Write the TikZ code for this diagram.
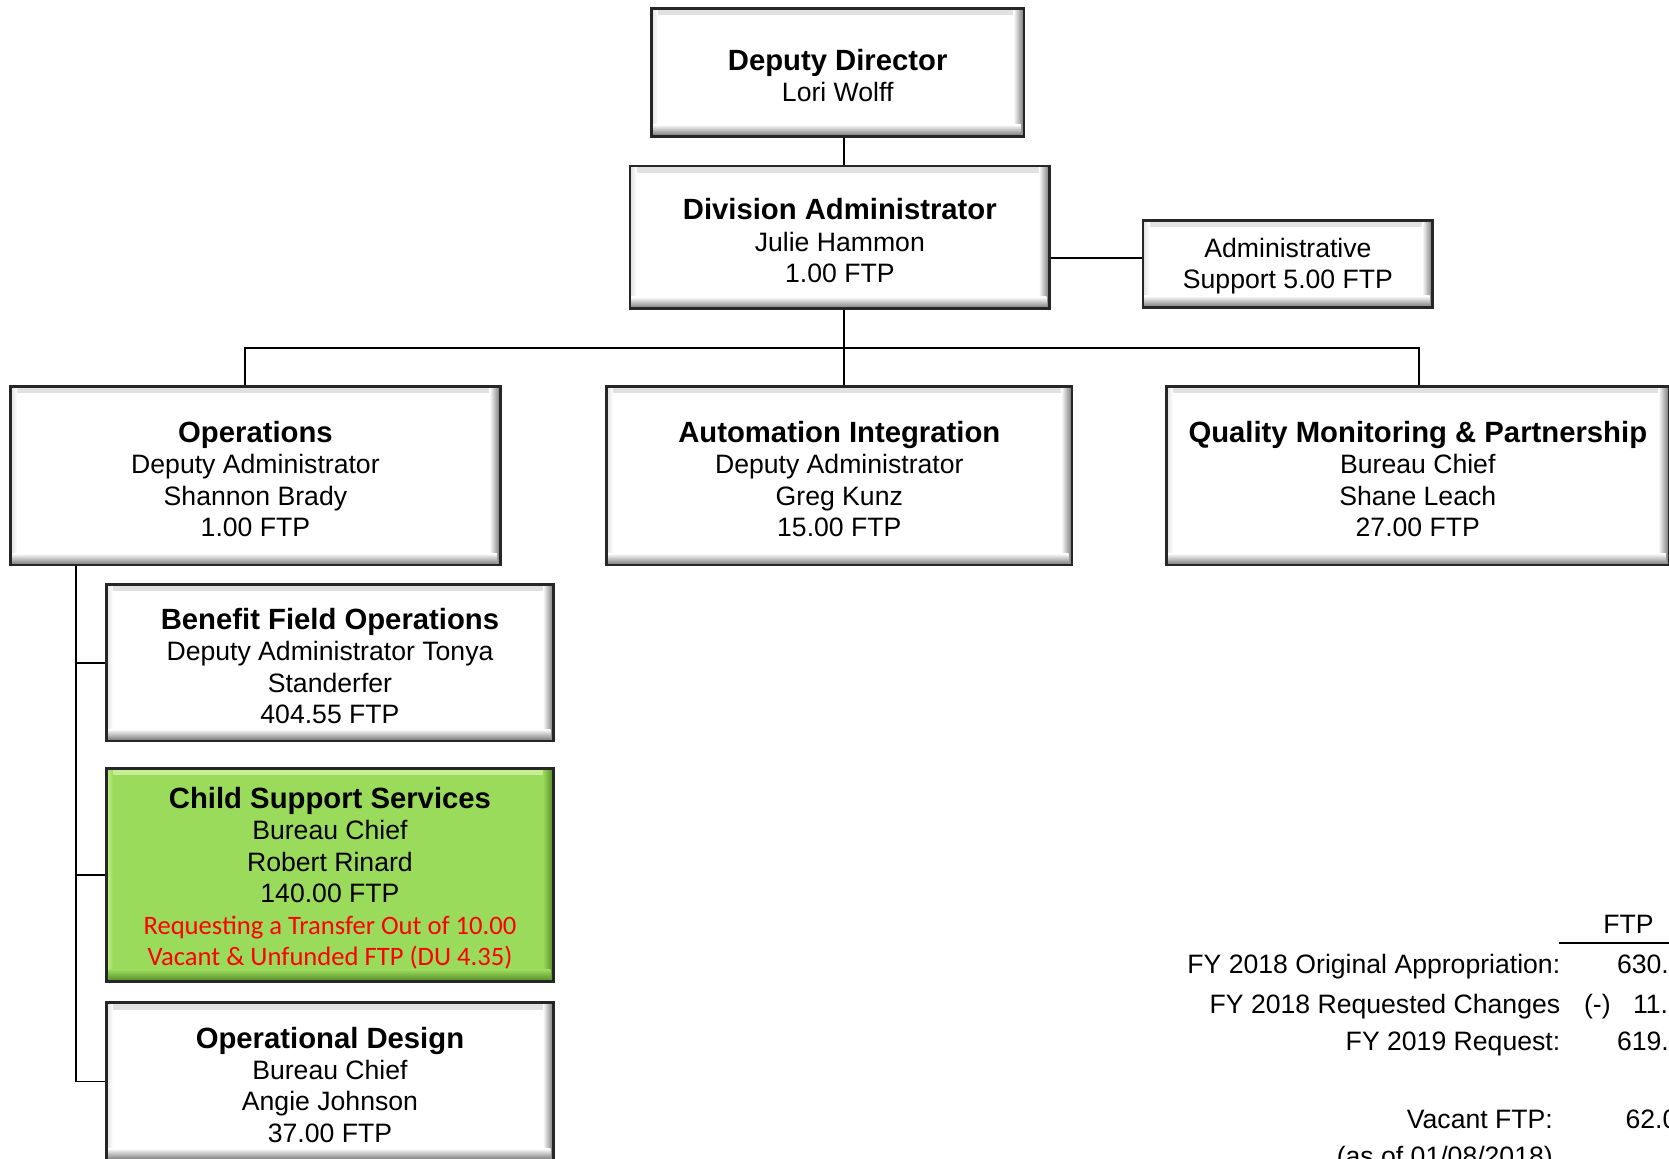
\documentclass[tikz,border=0pt]{standalone}
\usepackage{fontspec}
\setmainfont{Liberation Sans}
\newfontfamily\calfont{Carlito}
\definecolor{boxgreen}{HTML}{9BDB5B}
\definecolor{greenlight}{HTML}{C8EE95}
\definecolor{greendark}{HTML}{4F8A25}
\definecolor{redtext}{HTML}{FF0000}
\newcommand{\ttl}[1]{{\fontsize{27.5}{30}\selectfont\bfseries\rule{0pt}{26pt}#1}}
\newcommand{\redl}[1]{{\calfont\color{redtext}#1}}
\tikzset{
  orgbox/.style n args={3}{draw=black!85, line width=2.4pt, rectangle, inner sep=0pt,
    align=center, fill=#1, font=\fontsize{25}{29.5}\selectfont,
    path picture={
      \shade[top color=#2, bottom color=#1] (path picture bounding box.north west) rectangle ([yshift=-6pt]path picture bounding box.north east);
      \shade[left color=#2, right color=#1] (path picture bounding box.north west) rectangle ([xshift=6pt]path picture bounding box.south west);
      \shade[left color=#1, right color=#3] ([xshift=-10pt]path picture bounding box.north east) rectangle (path picture bounding box.south east);
      \shade[top color=#1, bottom color=#3] ([yshift=11pt]path picture bounding box.south west) rectangle ([xshift=-3pt]path picture bounding box.south east);
    }},
  plainbox/.style={orgbox={white}{black!12}{black!55}},
  greenbox/.style={orgbox={boxgreen}{greenlight}{greendark}},
  conn/.style={draw=black, line width=1.8pt},
  tbl/.style={font=\fontsize{25}{29}\selectfont, inner sep=0pt},
}
\begin{document}
\begin{tikzpicture}[x=1pt, y=-1pt]
\useasboundingbox (0,0) rectangle (1568,1088);
\fill[white] (0,0) rectangle (1568,1088);

% boxes
\node[plainbox, minimum width=350, minimum height=120] (DD) at (787,68)
  {\ttl{Deputy Director}\\Lori Wolff};
\node[plainbox, minimum width=394, minimum height=134] (DA) at (789,223)
  {\ttl{Division Administrator}\\Julie Hammon\\1.00 FTP};
\node[plainbox, minimum width=272, minimum height=82] (AS) at (1210,248)
  {\rule{0pt}{22pt}Administrative\\Support 5.00 FTP};
\node[plainbox, minimum width=460, minimum height=168] (Ops) at (240,447)
  {\ttl{Operations}\\Deputy Administrator\\Shannon Brady\\1.00 FTP};
\node[plainbox, minimum width=437, minimum height=168] (AI) at (788.5,447)
  {\ttl{Automation Integration}\\Deputy Administrator\\Greg Kunz\\15.00 FTP};
\node[plainbox, minimum width=472, minimum height=168] (QM) at (1332,447)
  {\ttl{Quality Monitoring \& Partnership}\\Bureau Chief\\Shane Leach\\27.00 FTP};
\node[plainbox, minimum width=420, minimum height=147] (BFO) at (310,622.5)
  {\ttl{Benefit Field Operations}\\Deputy Administrator Tonya\\Standerfer\\404.55 FTP};
\node[greenbox, minimum width=420, minimum height=200] (CSS) at (310,822)
  {\ttl{Child Support Services}\\Bureau Chief\\Robert Rinard\\140.00 FTP\\
   \redl{Requesting a Transfer Out of 10.00}\\\redl{Vacant \& Unfunded FTP (DU 4.35)}};
\node[plainbox, minimum width=420, minimum height=148] (OD) at (310,1016)
  {\ttl{Operational Design}\\Bureau Chief\\Angie Johnson\\37.00 FTP};

% connectors
\coordinate (trunk) at (793,0);
\coordinate (asy) at (0,242);
\coordinate (bus) at (793,327);
\coordinate (opsx) at (230,0);
\coordinate (qmx) at (1333,0);
\coordinate (spine) at (71,0);
\draw[conn] (DD.south -| trunk) -- (DA.north -| trunk);
\draw[conn] (DA.east |- asy) -- (AS.west |- asy);
\draw[conn] (DA.south -| bus) -- (bus);
\draw[conn] (Ops.north -| opsx) -- (opsx |- bus) -- (qmx |- bus) -- (QM.north -| qmx);
\draw[conn] (bus) -- (AI.north -| bus);
\draw[conn] (Ops.south -| spine) -- (spine |- OD.west) -- (OD.west);
\draw[conn] (spine |- BFO.west) -- (BFO.west);
\draw[conn] (spine |- CSS.west) -- (CSS.west);

% table
\node[tbl, anchor=base] (ftp) at (1530,877) {FTP};
\coordinate (ul1) at (1465,886);
\coordinate (ul2) at (1572,886);
\draw[line width=2.6pt] (ul1) -- (ul2);
\node[tbl, anchor=base east] (orig) at (1466,915) {FY 2018 Original Appropriation:};
\node[tbl, anchor=base west] (origv) at (1519,915) {630.};
\node[tbl, anchor=base east] (chg) at (1466,952) {FY 2018 Requested Changes};
\node[tbl, anchor=base west] (chgs) at (1488,952) {(-)};
\node[tbl, anchor=base west] (chgv) at (1534,952) {11.};
\node[tbl, anchor=base east] (req) at (1466,987) {FY 2019 Request:};
\node[tbl, anchor=base west] (reqv) at (1519,987) {619.};
\node[tbl, anchor=base east] (vac) at (1459,1060) {Vacant FTP:};
\node[tbl, anchor=base west] (vacv) at (1527,1060) {62.0};
\node[tbl, anchor=base east] (asof) at (1459,1095) {(as of 01/08/2018)};
\end{tikzpicture}
\end{document}
